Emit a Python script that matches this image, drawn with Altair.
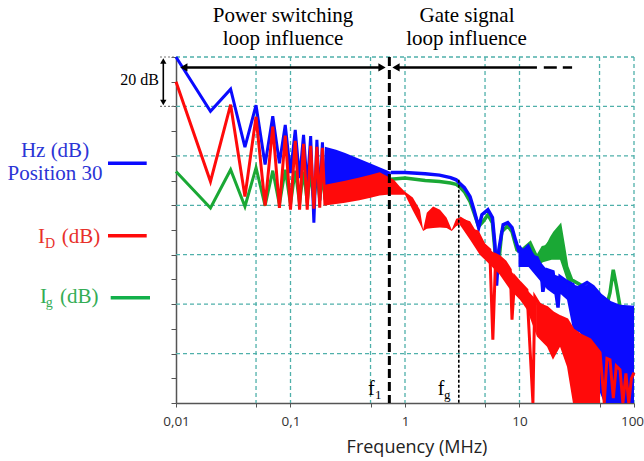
import altair as alt
import pandas as pd

# ------------------------------------------------------------------ data
# low-frequency harmonic lines (MHz)
HARM_F = [0.01, 0.02, 0.03, 0.04, 0.05, 0.06, 0.07, 0.08, 0.09, 0.10,
          0.11, 0.12, 0.13, 0.14, 0.15, 0.16, 0.17, 0.18, 0.19, 0.20]
HZ_HARM = [140.0, 118.0, 127.0, 103.5, 120.5, 96.5, 116.0, 97.0, 112.5, 93.0,
           110.5, 91.0, 108.5, 87.5, 108.0, 73.0, 106.5, 82.0, 105.5, 84.5]
ID_HARM = [130.0, 89.6, 120.7, 83.5, 115.8, 79.9, 111.8, 79.0, 108.2, 78.2,
           106.1, 78.2, 104.9, 78.2, 104.1, 78.6, 103.7, 79.0, 103.3, 79.9]
IG_HARM = [93.7, 78.9, 94.4, 79.5, 95.2, 79.8, 94.0, 80.2, 94.4, 80.2,
           94.0, 80.6, 93.6, 81.0, 93.2, 81.5, 92.8, 81.9, 92.4, 82.3]

# Hz: dense band, then line, then dense bands at high frequency
HZ_BAND_F = [0.2, 0.25, 0.3, 0.5, 0.7, 0.75]
HZ_BAND_HI = [103.7, 102.5, 101.2, 96.9, 94.1, 93.5]
HZ_BAND_LO = [82.3, 83.0, 83.5, 85.5, 89.1, 91.6]
HZ_F = [0.75, 1.0, 1.5, 2.0, 2.5, 2.8, 3.0, 3.3, 3.7, 4.0,
        4.4, 4.7, 5.3, 5.8, 6.1, 6.3, 6.6, 7.2, 7.9, 8.6,
        9.2, 9.8, 10.1, 10.7, 11.9, 13.1, 14.2, 15.4, 16.0, 17.4,
        19.6, 21.7, 22.6, 26.0, 29.3, 30.5, 33.8, 38.9, 43.9, 50.5,
        61.7, 75.5, 100]
HZ_V = [93.3, 93.3, 92.8, 92.2, 91.2, 90.3, 88.9, 87.1, 83.5, 78.2,
        71.0, 76.2, 78.2, 75.0, 64.1, 47.5, 62.0, 72.1, 73.0, 71.0,
        66.1, 62.0, 62.8, 61.2, 63.4, 59.2, 58.8, 55.2, 45.0, 53.9,
        53.1, 38.6, 51.1, 49.1, 47.9, 36.5, 47.1, 48.7, 47.1, 43.8,
        40.6, 39.0, 38.6]
HZ_MB_F = [9.8, 12.0, 14.2, 17.4, 20.0, 23.0, 26.0]
HZ_MB_HI = [62.0, 63.0, 58.8, 53.9, 52.0, 51.0, 49.1]
HZ_MB_LO = [55.0, 55.0, 51.0, 46.0, 44.0, 44.0, 41.8]
HZ_HB_F = [26.0, 29.3, 33.8, 41.3, 48.1, 54.9, 61.7, 75.5, 100]
HZ_HB_HI = [49.1, 47.9, 47.1, 48.0, 45.0, 43.0, 40.6, 39.0, 38.6]
HZ_HB_LO = [41.8, 29.7, 28.4, 20.4, 6.6, 0.0, 0.0, 0.0, 0.0]

# I_D
ID_BAND_F = [0.2, 0.3, 0.4, 0.5, 0.6, 0.7, 0.8, 0.9, 1.0, 1.17,
             1.35, 1.44, 1.55, 1.76, 2.02, 2.31, 2.56, 2.8, 3.0]
ID_BAND_HI = [88.3, 89.9, 91.2, 92.4, 93.4, 91.7, 90.3, 87.6, 85.5, 83.1,
              78.2, 70.1, 77.0, 79.5, 78.2, 75.0, 70.1, 74.6, 75.0]
ID_BAND_LO = [79.9, 81.0, 82.0, 83.0, 84.0, 84.3, 84.3, 84.3, 84.3, 77.9,
              72.4, 69.6, 70.5, 70.8, 71.0, 70.8, 69.6, 71.5, 72.2]
ID_F = [3.0, 3.4, 3.8, 4.3, 4.9, 5.5, 5.85, 6.2, 6.7, 7.5,
        8.3, 8.6, 9.1, 10.1, 11.6, 13.1, 13.6, 15.0, 17.4, 19.6,
        22.6, 26.0, 29.3, 33.8, 41.3, 50.5, 55, 58, 61.7, 66,
        70, 75.5, 80, 85, 90, 95, 100]
ID_V = [75.0, 73.4, 70.0, 69.3, 64.1, 62.0, 25.6, 60.0, 59.2, 57.2,
        53.9, 33.7, 51.1, 48.7, 45.8, 0.0, 43.0, 39.8, 38.6, 36.5,
        34.9, 33.7, 29.7, 27.6, 25.6, 20.4, 0.0, 18.0, 17.5, 2.0,
        15.0, 13.5, 0.0, 12.0, 0.0, 10.0, 12.3]
ID_MB_F = [3.0, 3.7, 4.5, 5.5, 6.7, 8.3, 10.1, 11.6, 14.2]
ID_MB_HI = [75.0, 73.5, 67.0, 62.0, 59.2, 53.9, 48.7, 45.8, 41.5]
ID_MB_LO = [72.2, 66.1, 60.0, 56.0, 52.0, 45.8, 41.8, 37.8, 26.9]
ID_HB_F = [14.2, 17.4, 19.6, 22.6, 26.0, 29.3, 33.8, 41.3, 50.5]
ID_HB_HI = [41.5, 38.6, 36.5, 34.9, 33.7, 29.7, 27.6, 25.6, 20.4]
ID_HB_LO = [26.9, 22.8, 17.5, 22.8, 14.7, 0.0, 0.0, 0.0, 0.0]

# I_g
IG_F = [0.3, 0.5, 0.75, 1.0, 1.5, 2.0, 2.5, 2.8, 3.0, 3.3,
        3.7, 4.0, 4.4, 4.8, 5.3, 5.8, 6.2, 6.5, 7.0, 7.9,
        8.6, 9.5, 10.1, 12.4, 14.2, 16.0, 17.4, 19.1, 20.3, 22.6,
        24.2, 25.8, 28.5, 33.8, 41.3, 50.5, 57.5, 61.7, 65.9, 70.4,
        75.5, 86.7, 100]
IG_V = [88.3, 89.5, 90.5, 91.0, 90.0, 89.6, 89.0, 88.5, 87.5, 85.5,
        81.5, 77.0, 71.5, 73.4, 76.2, 72.9, 58.0, 53.9, 69.3, 71.7,
        69.3, 62.0, 61.2, 64.7, 58.8, 62.9, 63.2, 66.9, 68.9, 71.4,
        63.2, 55.2, 49.9, 47.9, 45.8, 42.6, 39.0, 44.6, 53.9, 47.1,
        39.0, 36.5, 38.6]
IG_MB_F = [10.1, 12.4, 14.2, 16.0, 19.1, 22.6, 25.8, 28.5]
IG_MB_HI = [61.2, 64.7, 58.8, 62.9, 66.9, 71.4, 55.2, 49.9]
IG_MB_LO = [57.0, 58.0, 55.0, 57.0, 58.0, 58.0, 50.0, 46.0]

# annotations (data units)
F1 = 0.73
FG = 2.95
FG_TOP = 90.3
ARROW_DB = 135.8
POWER_ARROW = [0.0117, 0.63]
GATE_ARROW = [0.834, 14.2]
GATE_DASH = [16.3, 28.8]
SCALE_BAR = [140, 120]

X_TICKS = [0.01, 0.05, 0.1, 0.5, 1, 5, 10, 50, 100]
X_GRID = [0.05, 0.1, 0.5, 1, 5, 10, 50, 100]
Y_TICKS = list(range(0, 141, 10))
Y_GRID = [20, 40, 60, 80, 100, 120, 140]

# ------------------------------------------------------------------ style
BLUE = "#0a0aff"
RED = "#ff0a0a"
GREEN = "#1aa835"
GRID = "#4fb0aa"
SERIF = "Liberation Serif"
SANS = "Open Sans"
W, H = 458, 346

xscale = alt.Scale(type="log", domain=[0.01, 100], nice=False)
yscale = alt.Scale(domain=[0, 140], nice=False)
label_expr = ("datum.value==0.01?'0,01':datum.value==0.1?'0,1':"
              "datum.value==1?'1':datum.value==10?'10':datum.value==100?'100':''")
xaxis = alt.Axis(values=X_TICKS, labelExpr=label_expr, grid=False, title=None,
                 domainColor="#555", domainWidth=1.5, tickColor="#555", tickSize=4,
                 labelFont=SANS, labelFontSize=13.5, labelColor="#333",
                 labelPadding=7, labelFlush=False, labelOverlap=False,
                 labelOffset={"condition": {"test": "datum.value == 100", "value": -2},
                              "value": 0})
yaxis = alt.Axis(values=Y_TICKS, labels=False, grid=False, title=None,
                 domainColor="#555", domainWidth=1.5, tickColor="#555", tickSize=5)

X = alt.X("f:Q", scale=xscale, axis=xaxis)
Y = alt.Y("v:Q", scale=yscale, axis=yaxis)


def line(f, v, color, width=3):
    return alt.Chart(pd.DataFrame({"f": f, "v": v})).mark_line(
        color=color, strokeWidth=width).encode(x=X, y=Y)


def band(f, hi, lo, color):
    return alt.Chart(pd.DataFrame({"f": f, "v": hi, "v2": lo})).mark_area(
        color=color, opacity=1).encode(x=X, y=Y, y2=alt.Y2("v2:Q"))


dummy = pd.DataFrame({"a": [0]})


def txt(text, x, y, size=21, color="black", align="center", font=SERIF):
    return alt.Chart(dummy).mark_text(text=text, font=font, fontSize=size, color=color,
                                      align=align, baseline="alphabetic").encode(
        x=alt.value(x), y=alt.value(y))


def seg(x1, x2, y, color, width=3.5):
    return alt.Chart(dummy).mark_rule(color=color, strokeWidth=width).encode(
        x=alt.value(x1), x2=alt.value(x2), y=alt.value(y))


layers = []

# grid
layers.append(alt.Chart(pd.DataFrame({"f": X_GRID})).mark_rule(
    color=GRID, strokeDash=[4, 3], strokeWidth=1.3).encode(
    x=X, y=alt.value(0), y2=alt.value(H)))
layers.append(alt.Chart(pd.DataFrame({"v": Y_GRID})).mark_rule(
    color=GRID, strokeDash=[4, 3], strokeWidth=1.3).encode(
    y=Y, x=alt.value(0), x2=alt.value(W)))

# series: I_g, Hz, I_D
layers.append(line(HARM_F, IG_HARM, GREEN))
layers.append(line(IG_F, IG_V, GREEN, 3.5))
layers.append(band(IG_MB_F, IG_MB_HI, IG_MB_LO, GREEN))

layers.append(line(HARM_F, HZ_HARM, BLUE))
layers.append(band(HZ_BAND_F, HZ_BAND_HI, HZ_BAND_LO, BLUE))
layers.append(line(HZ_F, HZ_V, BLUE, 3.5))
layers.append(band(HZ_MB_F, HZ_MB_HI, HZ_MB_LO, BLUE))
layers.append(band(HZ_HB_F, HZ_HB_HI, HZ_HB_LO, BLUE))

layers.append(line(HARM_F, ID_HARM, RED))
layers.append(band(ID_BAND_F, ID_BAND_HI, ID_BAND_LO, RED))
layers.append(line(ID_F, ID_V, RED))
layers.append(band(ID_MB_F, ID_MB_HI, ID_MB_LO, RED))
layers.append(band(ID_HB_F, ID_HB_HI, ID_HB_LO, RED))

# f1 and fg markers
layers.append(alt.Chart(pd.DataFrame({"f": [F1], "v": [140], "v2": [0]})).mark_rule(
    color="black", strokeWidth=3, strokeDash=[9, 4]).encode(x=X, y=Y, y2=alt.Y2("v2:Q")))
layers.append(alt.Chart(pd.DataFrame({"f": [FG], "v": [FG_TOP], "v2": [0]})).mark_rule(
    color="black", strokeWidth=1.6, strokeDash=[3, 2]).encode(x=X, y=Y, y2=alt.Y2("v2:Q")))

# arrows
arrows = pd.DataFrame({"f": [POWER_ARROW[0], GATE_ARROW[0]],
                       "f2": [POWER_ARROW[1], GATE_ARROW[1]],
                       "v": [ARROW_DB, ARROW_DB]})
layers.append(alt.Chart(arrows).mark_rule(color="black", strokeWidth=2.5).encode(
    x=X, x2=alt.X2("f2:Q"), y=Y))
layers.append(alt.Chart(pd.DataFrame({"f": [GATE_DASH[0]], "f2": [GATE_DASH[1]],
                                      "v": [ARROW_DB]})).mark_rule(
    color="black", strokeWidth=2.5, strokeDash=[13, 6]).encode(x=X, x2=alt.X2("f2:Q"), y=Y))
heads = pd.DataFrame({"f": [POWER_ARROW[0], POWER_ARROW[1], GATE_ARROW[0]],
                      "v": [ARROW_DB] * 3,
                      "s": ["triangle-left", "triangle-right", "triangle-left"]})
layers.append(alt.Chart(heads).mark_point(filled=True, size=70, color="black", opacity=1).encode(
    x=X, y=Y, shape=alt.Shape("s:N", scale=None)))

# 20 dB scale bar
layers.append(alt.Chart(pd.DataFrame({"v": SCALE_BAR})).mark_rule(
    color="#777", strokeWidth=1.2, strokeDash=[2, 2]).encode(
    y=Y, x=alt.value(-16), x2=alt.value(0)))
layers.append(alt.Chart(pd.DataFrame({"v": [SCALE_BAR[0] - 1.6], "v2": [SCALE_BAR[1] + 1.6]})).mark_rule(
    color="black", strokeWidth=1.6).encode(x=alt.value(-12.7), y=Y, y2=alt.Y2("v2:Q")))
layers.append(alt.Chart(pd.DataFrame({"v": [SCALE_BAR[0] - 1.6, SCALE_BAR[1] + 1.6],
                                      "s": ["triangle-up", "triangle-down"]})).mark_point(
    filled=True, size=40, color="black", opacity=1).encode(
    x=alt.value(-12.7), y=Y, shape=alt.Shape("s:N", scale=None)))
layers.append(txt("20 dB", -17, 28, size=16, align="right"))

# texts
layers += [
    txt("Power switching", 107, -35),
    txt("loop influence", 107, -12),
    txt("Gate signal", 291, -35),
    txt("loop influence", 290.5, -12),
    txt("Hz (dB)", -121, 100, color="#2b35d6"),
    txt("Position 30", -121, 123, color="#2b35d6"),
    seg(-68, -29.3, 106.3, BLUE),
    txt("I", -138, 186, color="#e8302a", align="left"),
    txt("D", -131, 191, size=14, color="#e8302a", align="left"),
    txt("(dB)", -114.3, 186, color="#e8302a", align="left"),
    seg(-68, -29.3, 178.7, RED),
    txt("I", -136, 246, color="#34ad55", align="left"),
    txt("g", -130.3, 250, size=14, color="#34ad55", align="left"),
    txt("(dB)", -116, 246, color="#34ad55", align="left"),
    seg(-65.3, -26, 240.7, "#12b04a"),
    txt("f", 192, 338, size=20, align="left"),
    txt("1", 199, 342, size=13, align="left"),
    txt("f", 261.7, 338, size=20, align="left"),
    txt("g", 268, 342, size=13, align="left"),
    txt("Frequency (MHz)", 241, 396, size=18, color="#222", font=SANS),
]

chart = alt.layer(*layers).properties(
    width=W, height=H,
    padding={"left": 176, "top": 57, "right": 10, "bottom": 58},
    autosize=alt.AutoSizeParams(type="none"),
    background="white",
).configure_view(stroke=None)

chart.save("out.html", embed_options={"renderer": "svg", "actions": False})
